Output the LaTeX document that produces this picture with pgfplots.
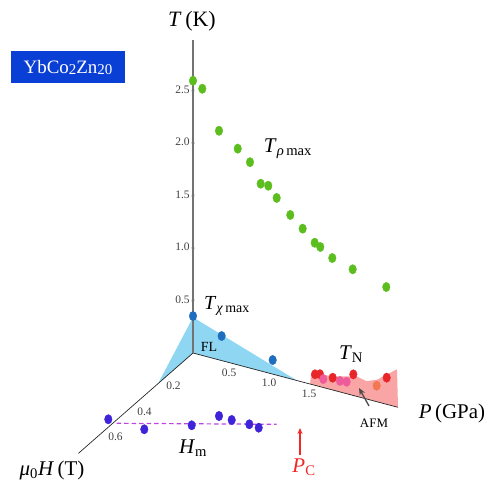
\documentclass[border=0pt]{standalone}
\usepackage{pgfplots}
\pgfplotsset{compat=1.18}
\usepackage{fontspec}
\setmainfont{Liberation Serif}
\usetikzlibrary{arrows.meta}
\definecolor{tgreen}{HTML}{5BBE1E}
\definecolor{tblue}{HTML}{1F6DBF}
\definecolor{flblue}{HTML}{8ED6F2}
\definecolor{afmpink}{HTML}{F9A5A5}
\definecolor{tred}{HTML}{E8262A}
\definecolor{tpink}{HTML}{EE5A9A}
\definecolor{torange}{HTML}{F27852}
\definecolor{hpurple}{HTML}{3F23D8}
\definecolor{hdash}{HTML}{BE46E0}
\definecolor{pcred}{HTML}{F02828}
\definecolor{boxblue}{HTML}{0A3FD6}
\begin{document}
\begin{tikzpicture}[x=1bp,y=1bp]
\begin{axis}[
  x={(80bp,-21.2bp)}, y={(-145bp,-127bp)}, z={(0bp,105bp)},
  xmin=0, xmax=2.56, ymin=0, ymax=0.79, zmin=0, zmax=2.98,
  axis lines=center,
  axis line style={-},
  x axis line style={draw=black!85, line width=0.7bp},
  y axis line style={draw=black!85, line width=0.7bp},
  z axis line style={draw=black!55, line width=1.4bp},
  xtick={0.5,1,1.5}, ytick={0.2,0.4,0.6}, ztick={0.5,1,1.5,2,2.5},
  xticklabels={0.5,1.0,1.5}, yticklabels={0.2,0.4,0.6},
  zticklabels={0.5,1.0,1.5,2.0,2.5},
  xtick style={draw=none}, ytick style={draw=none},
  ztick style={draw=black!60, line width=0.6bp},
  major tick length=3bp,
  tick label style={font=\fontsize{11.5}{12}\selectfont, text=black!75},
  xticklabel style={anchor=center, xshift=-5bp, yshift=-10bp},
  yticklabel style={anchor=center, xshift=11bp, yshift=-8bp},
  zticklabel style={anchor=east, xshift=-1bp},
  clip=false, set layers,
  every axis plot/.append style={mark size=4.7bp, mark options={xscale=0.8}},
]
\coordinate (O) at (axis cs:0,0,0);
% FL region
\addplot3[on layer=axis background, fill=flblue, draw=none]
  coordinates {(0,0,0.34) (1.3,0,0) (0,0,0) (0,0.241,0)};
% AFM region
\addplot3[on layer=axis background, fill=afmpink, draw=none]
  coordinates {(1.4625,0,0) (1.48,0,0.11) (1.75,0,0.13) (2.04,0,0.19) (2.17,0,0.17) (2.30,0,0.21) (2.55,0,0.36) (2.5625,0,0)};
% Hm dashed line
\addplot3[hdash, line width=1.2bp, dash pattern=on 4.5bp off 3bp]
  coordinates {(0.038,0.5472,0) (1.5844,0.2969,0)};
% T_rho max
\addplot3[only marks, mark=*, color=tgreen]
  coordinates {
  (0,0,2.593) (0.116,0,2.540) (0.325,0,2.182) (0.559,0,2.059) (0.7125,0,1.961)
  (0.846,0,1.783) (0.941,0,1.783) (1.046,0,1.688) (1.216,0,1.560) (1.371,0,1.461)
  (1.521,0,1.357) (1.591,0,1.331) (1.741,0,1.256) (1.996,0,1.200) (2.416,0,1.116)};
% T_chi max
\addplot3[only marks, mark=*, color=tblue]
  coordinates {(0,0,0.352) (0.358,0,0.234) (0.996,0,0.134)};
% T_N
\addplot3[only marks, mark=*, color=tred]
  coordinates {(1.525,0,0.105) (1.5875,0,0.118) (1.746,0,0.117) (2.004,0,0.201) (2.421,0,0.254)};
\addplot3[only marks, mark=*, color=tpink]
  coordinates {(1.629,0,0.081) (1.8375,0,0.105) (1.921,0,0.114)};
\addplot3[only marks, mark=*, color=torange]
  coordinates {(2.296,0,0.152)};
% H_m
\addplot3[only marks, mark=*, color=hpurple]
  coordinates {(-0.0864,0.5365,0) (0.3686,0.5393,0) (0.7797,0.4391,0) (0.9398,0.3392,0)
  (1.1055,0.3430,0) (1.3215,0.3408,0) (1.4490,0.3463,0)};
\end{axis}
\path (O) ++(-193,353) coordinate (TL);
\begin{scope}[shift={(TL)}]
% labels
\node at (192,-21) {\fontsize{22}{24}\selectfont\textit{T}\,(K)};
\node at (288,-149) {\fontsize{21}{24}\selectfont\textit{T}\textsubscript{\textit{ρ}\,max}};
\node at (227,-306) {\fontsize{20}{24}\selectfont\textit{T}\textsubscript{\textit{χ}\,max}};
\node at (209,-347) {\fontsize{14}{16}\selectfont FL};
\node at (351,-354) {\fontsize{21}{24}\selectfont\textit{T}\textsubscript{N}};
\node at (374,-423) {\fontsize{13}{15}\selectfont AFM};
\draw[-{Stealth[length=7bp,width=6bp]}, black!70, line width=1.3bp] (369,-406) -- (359,-388);
\node at (452,-413) {\fontsize{21}{24}\selectfont\textit{P}\,(GPa)};
\node at (52,-470) {\fontsize{21}{24}\selectfont\textit{μ}\textsubscript{0}\textit{H}\,(T)};
\node at (193,-448) {\fontsize{21}{24}\selectfont\textit{H}\textsubscript{m}};
\node[text=pcred] at (304,-467) {\fontsize{21}{24}\selectfont\textit{P}\textsubscript{C}};
\draw[-{Stealth[length=6bp,width=5bp]}, pcred, line width=1.2bp] (300,-455) -- (300,-428);
\node[fill=boxblue, text=white, minimum width=113bp, minimum height=32bp, inner sep=0pt]
  at (68,-67.5) {\fontsize{19}{22}\selectfont YbCo\raisebox{-1.5bp}{\fontsize{15}{16}\selectfont 2}Zn\raisebox{-1.5bp}{\fontsize{15}{16}\selectfont 20}};
\end{scope}
\pgfresetboundingbox
\path[use as bounding box] (TL) rectangle ++(491,-486);
\end{tikzpicture}
\end{document}
